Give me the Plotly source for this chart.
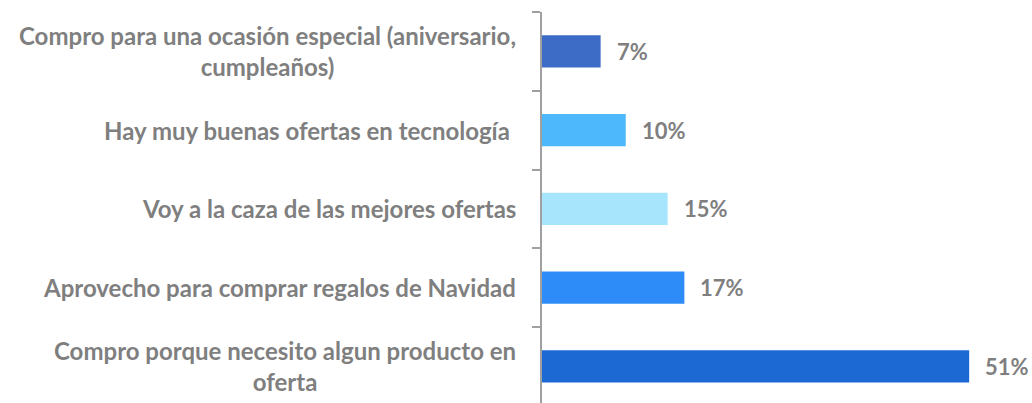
import plotly.graph_objs as go

categories = [
    'Compro para una ocasión especial (aniversario,<br>cumpleaños)',
    'Hay muy buenas ofertas en tecnología\u00a0',
    'Voy a la caza de las mejores ofertas',
    'Aprovecho para comprar regalos de Navidad',
    'Compro porque necesito algun producto en<br>oferta',
]
values = [7, 10, 15, 17, 51]
bar_colors = ['#3d6cc6', '#4db8fb', '#a6e5fb', '#2d8cf8', '#1c69d4']

FONT = 'Lato'
GRAY = '#7f7f7f'


def main():
    trace = go.Bar(
        x=values,
        y=categories,
        orientation='h',
        width=0.41,
        marker=dict(color=bar_colors, line=dict(width=0)),
        hoverinfo='x+y',
    )

    annotations = []
    # category labels, centred lines like the original
    for cat in categories:
        annotations.append(dict(
            x=0, xref='paper', y=cat, yref='y',
            text='<b>' + cat + '</b>',
            xanchor='right', yanchor='middle', align='center',
            xshift=-24, showarrow=False,
            font=dict(family=FONT, size=24, color=GRAY),
        ))
    # value labels to the right of each bar
    for cat, val in zip(categories, values):
        annotations.append(dict(
            x=val, xref='x', y=cat, yref='y',
            text='<b>' + str(val) + '%</b>',
            xanchor='left', yanchor='middle',
            xshift=14, showarrow=False,
            font=dict(family=FONT, size=22, color=GRAY),
        ))

    layout = go.Layout(
        width=1032,
        height=403,
        margin=dict(l=542, r=0, t=12, b=0, pad=0, autoexpand=False),
        paper_bgcolor='white',
        plot_bgcolor='white',
        showlegend=False,
        xaxis=dict(
            range=[0, 58.5],
            visible=False,
            fixedrange=True,
        ),
        yaxis=dict(
            type='category',
            categoryorder='array',
            categoryarray=categories,
            range=[4.465, -0.5],
            showticklabels=False,
            showgrid=False,
            zeroline=False,
            showline=True,
            linecolor='#a0a0a0',
            linewidth=2,
            ticks='outside',
            tickson='boundaries',
            ticklen=8,
            tickwidth=1.5,
            tickcolor='#a0a0a0',
            fixedrange=True,
        ),
        annotations=annotations,
    )
    fig = go.Figure(data=[trace], layout=layout)
    # drop the default page margin so the chart sits at the window's corner
    fig.write_html('out.html', post_script="document.body.style.margin='0';",
                   config={'displayModeBar': False})


if __name__ == '__main__':
    main()
